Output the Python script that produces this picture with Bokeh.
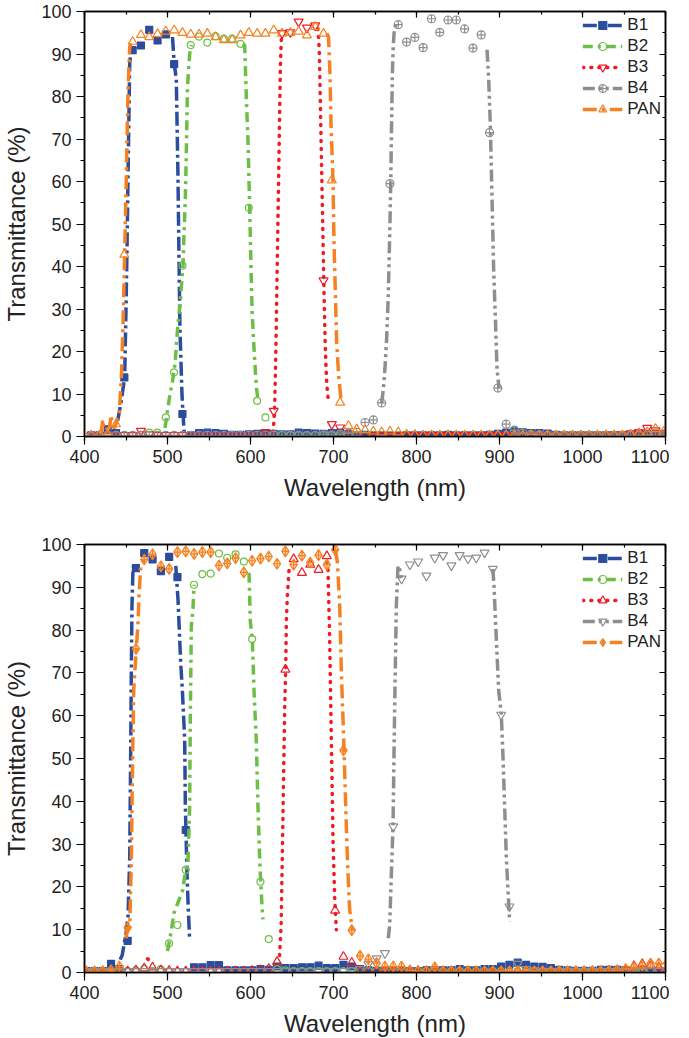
import numpy as np
from bokeh.plotting import figure
from bokeh.layouts import column
from bokeh.models import (LinearAxis, SingleIntervalTicker, Legend, LegendItem, Range1d,
                          CustomJSTickFormatter)
from bokeh.embed import file_html
from bokeh.resources import INLINE

nan = float("nan")
series_names = ["B1", "B2", "B3", "B4", "PAN"]

# ---------------- top panel data ----------------
top_wl = list(range(408, 1099, 10))
top_B1 = [0.3, 0.3, 1.7, 0.8, 13.9, 90.9, 92.0, 95.7, 93.2, 94.6,
          87.6, 5.3, 0.3, 0.8, 0.9, 0.8, 0.6, 0.4, 0.4, 0.5,
          0.6, 0.7, 0.6, 0.5, 0.5, 0.9, 0.8, 0.7, 0.6, 0.8,
          0.9, 0.6, 0.3, 0.4, 0.3, 0.3, 0.2, 0.2, 0.3, 0.3,
          0.3, 0.3, 0.3, 0.4, 0.3, 0.3, 0.3, 0.3, 0.4, 0.6,
          0.9, 1.2, 1.0, 0.8, 0.8, 0.7, 0.4, 0.3, 0.3, 0.3,
          0.3, 0.3, 0.3, 0.3, 0.3, 0.4, 0.5, 0.6, 0.7, 0.6]
top_B2 = [0.2, 0.2, 0.2, 0.3, 0.3, 0.3, 0.4, 0.9, 0.9, 4.5,
          15.1, 40.2, 92.1, 94.1, 92.7, 94.2, 93.6, 93.6, 92.4, 53.8,
          8.4, 4.5, 0.5, 0.4, 0.3, 0.3, 0.3, 0.3, 0.3, 0.3,
          0.3, 0.3, 0.3, 0.3, 0.3, 0.3, 0.3, 0.3, 0.3, 0.3,
          0.3, 0.3, 0.3, 0.3, 0.3, 0.3, 0.3, 0.3, 0.3, 0.3,
          0.3, 0.3, 0.3, 0.3, 0.3, 0.3, 0.3, 0.3, 0.3, 0.3,
          0.3, 0.3, 0.3, 0.3, 0.4, 0.5, 0.4, 0.4, 0.3, 0.3]
top_B3 = [0.2, 0.2, 0.2, 0.2, 0.3, 0.3, 1.3, 0.5, 0.3, 0.3,
          0.3, 0.3, 0.3, 0.3, 0.3, 0.3, 0.3, 0.3, 0.3, 0.3,
          0.5, 1.0, 6.0, 94.9, 95.1, 97.6, 96.2, 96.7, 36.7, 2.9,
          2.1, 0.5, 0.3, 0.3, 0.3, 0.3, 0.3, 0.3, 0.3, 0.3,
          0.3, 0.3, 0.3, 0.3, 0.3, 0.3, 0.3, 0.3, 0.3, 0.3,
          0.3, 0.3, 0.3, 0.3, 0.3, 0.3, 0.3, 0.3, 0.3, 0.3,
          0.3, 0.3, 0.3, 0.4, 0.5, 0.7, 1.0, 2.0, 1.4, 0.8]
top_B4 = [0.2, 0.2, 0.3, 0.3, 0.3, 0.3, 0.3, 0.3, 0.3, 0.3,
          0.3, 0.3, 0.3, 0.3, 0.3, 0.3, 0.3, 0.3, 0.3, 0.3,
          0.3, 0.3, 0.3, 0.3, 0.3, 0.3, 0.3, 0.3, 0.4, 0.4,
          0.5, 0.8, 1.0, 3.3, 3.9, 7.9, 59.5, 96.9, 92.8, 93.9,
          91.5, 98.3, 95.1, 98.0, 98.0, 95.9, 91.4, 94.5, 71.5, 11.4,
          2.9, 1.5, 0.8, 0.5, 0.4, 0.3, 0.3, 0.3, 0.3, 0.3,
          0.3, 0.3, 0.3, 0.3, 0.3, 0.3, 0.3, 0.3, 0.3, 0.3]
top_PAN = [0.3, 0.3, 0.5, 2.9, 42.8, 92.9, 94.5, 94.0, 94.7, 95.3,
           95.6, 95.0, 94.6, 94.6, 94.8, 94.0, 93.3, 93.3, 94.4, 95.0,
           94.8, 94.8, 95.6, 94.8, 95.0, 95.3, 94.4, 96.4, 94.8, 60.3,
           8.0, 2.5, 1.7, 1.5, 1.2, 1.0, 1.2, 1.0, 0.5, 0.4,
           0.3, 0.3, 0.3, 0.3, 0.3, 0.3, 0.3, 0.3, 0.3, 0.3,
           0.3, 0.3, 0.3, 0.3, 0.3, 0.3, 0.3, 0.3, 0.3, 0.3,
           0.3, 0.3, 0.3, 0.3, 0.3, 0.5, 0.8, 1.0, 1.8, 1.2]

# steep edges (line traces), NaN separates rising/falling edge
top_B1_edge_wl = [440, 444, 448.4, 450, 451.2, 452.5, 453.5, 454.5, 456, 458.4, nan,
                  506, 508, 510.6, 512.6, 513.8, 515, 517.5, 518.7, 520]
top_B1_edge_T = [3.7, 8, 13.9, 30, 44, 62, 75, 88, 90.5, 90.9, nan,
                 94, 88, 84, 61.5, 42.6, 25.3, 9.6, 5.3, 1]
top_B2_edge_wl = [497, 500, 503, 506, 509, 512, 515, 518.7, 520, 521.5, 522.7, 524, 526.7, 528.7, nan,
                  591, 593, 595, 597, 599, 600.2, 601.8, 603.8, 606.2, 607.4, 609]
top_B2_edge_T = [2, 6, 10, 13, 17, 25, 31, 40.2, 48, 56.4, 67, 82, 90, 92.1, nan,
                 92.4, 92, 79.6, 69.4, 53.8, 43.4, 30, 22.2, 14.3, 11.2, 8.4]
top_B3_edge_wl = [627, 628, 629, 630, 631, 632, 633, 634, 635, 636, 637, 638, nan,
                  681, 682, 683, 684, 685, 686, 687, 688, 689, 690, 691, 692, 693.5]
top_B3_edge_T = [1, 3, 6, 15, 25, 38, 50, 62, 75, 87, 93, 94.9, nan,
                 96, 94, 90, 80, 70, 60, 50, 40, 30, 22, 16, 12, 9]
top_B4_edge_wl = [758, 760, 762, 764, 766, 768, 769, 770, 771, 772, 773, 775, nan,
                  885, 887, 889, 891, 893, 895, 897, 899.4]
top_B4_edge_T = [7.9, 11, 16, 23, 33, 50, 60, 74, 86, 92, 95, 97, nan,
                 91, 84, 73, 56, 39, 28, 16, 11.4]
top_PAN_edge_wl = [420, 422, 424, 430, 432, 434, 436, 438, 442, 444.4, 446.4, 448.4, 450.4, 452.4,
                   454.4, 456, nan,
                   692, 694, 695.8, 697, 699.4, 700.6, 702.2, 703.8, 706.2, 709.4]
top_PAN_edge_T = [0.5, 4, 1.5, 2, 5, 2.5, 2, 3, 6, 14, 26, 42.8, 61.5, 81, 91.5, 92.5, nan,
                  94.8, 94, 85, 73.6, 60.3, 45.8, 34, 22.2, 14.3, 8]

# ---------------- bottom panel data ----------------
bot_wl = list(range(402, 1103, 10))
bot_B1 = [0.3, 0.3, 0.3, 2.0, 0.8, 7.4, 94.5, 98.0, 96.5, 93.8,
          97.1, 92.4, 33.3, 1.2, 1.2, 1.7, 1.7, 0.5, 0.5, 0.5,
          0.5, 0.8, 0.6, 1.4, 1.0, 1.0, 1.2, 1.2, 1.6, 1.0,
          1.0, 1.8, 1.4, 0.8, 0.5, 0.4, 0.4, 0.3, 0.3, 0.3,
          0.3, 0.5, 0.5, 0.5, 0.5, 0.8, 0.5, 0.5, 0.8, 0.8,
          1.4, 1.8, 2.3, 1.8, 1.4, 1.3, 1.0, 0.6, 0.5, 0.4,
          0.4, 0.4, 0.6, 0.6, 0.6, 0.5, 0.4, 0.4, 0.3, 0.3,
          0.3]
bot_B2 = [0.3, 0.3, 0.3, 0.3, 0.3, 0.3, 0.5, 0.8, 0.4, 0.8,
          6.8, 11.1, 24.0, 90.6, 93.1, 93.2, 97.9, 96.9, 97.7, 96.0,
          77.9, 21.2, 7.8, 0.8, 0.5, 0.3, 0.3, 0.3, 0.3, 0.3,
          0.3, 0.3, 0.3, 0.3, 0.3, 0.3, 0.3, 0.3, 0.3, 0.3,
          0.3, 0.3, 0.3, 0.3, 0.3, 0.3, 0.3, 0.3, 0.3, 0.3,
          0.3, 0.3, 0.3, 0.3, 0.3, 0.3, 0.3, 0.3, 0.3, 0.3,
          0.3, 0.3, 0.3, 0.3, 0.5, 0.5, 0.4, 0.3, 0.3, 0.3,
          0.3]
bot_B3 = [0.2, 0.2, 0.3, 0.3, 0.3, 0.3, 0.5, 1.0, 1.2, 0.5,
          0.4, 0.3, 0.3, 0.3, 0.3, 0.3, 0.3, 0.3, 0.3, 0.3,
          0.4, 0.6, 0.9, 2.5, 70.8, 96.6, 93.4, 95.3, 94.1, 97.3,
          14.5, 3.7, 2.3, 0.5, 0.3, 0.3, 0.3, 0.3, 0.3, 0.3,
          0.3, 0.3, 0.3, 0.3, 0.3, 0.3, 0.3, 0.3, 0.3, 0.3,
          0.3, 0.3, 0.3, 0.3, 0.3, 0.3, 0.3, 0.3, 0.3, 0.3,
          0.3, 0.3, 0.3, 0.4, 0.5, 0.6, 1.5, 2.0, 1.7, 1.2,
          0.8]
bot_B4 = [0.3, 0.3, 0.3, 0.3, 0.3, 0.3, 0.3, 0.3, 0.3, 0.3,
          0.3, 0.3, 0.3, 0.3, 0.3, 0.3, 0.3, 0.3, 0.3, 0.3,
          0.3, 0.3, 0.3, 0.3, 0.3, 0.3, 0.3, 0.3, 0.3, 0.3,
          0.3, 0.3, 0.5, 0.8, 2.0, 3.3, 4.5, 34.1, 92.0, 95.3,
          96.0, 92.7, 96.9, 97.5, 95.1, 97.5, 96.7, 96.9, 98.1, 94.3,
          60.2, 15.4, 2.0, 0.8, 0.5, 0.3, 0.3, 0.3, 0.3, 0.3,
          0.3, 0.3, 0.3, 0.3, 0.3, 0.3, 0.3, 0.4, 0.5, 0.5,
          0.5]
bot_PAN = [0.3, 0.3, 0.3, 0.5, 1.4, 10.5, 75.6, 96.5, 97.7, 94.9,
           94.3, 98.2, 98.4, 97.8, 98.2, 98.2, 95.1, 95.6, 96.8, 93.5,
           96.2, 96.7, 97.2, 95.5, 98.4, 95.3, 97.4, 95.8, 97.5, 95.3,
           98.8, 51.9, 9.9, 3.9, 3.1, 2.2, 1.4, 1.4, 1.4, 0.5,
           0.4, 0.3, 1.2, 0.3, 0.3, 0.3, 0.3, 0.3, 0.3, 0.3,
           0.3, 0.3, 0.3, 0.3, 0.3, 0.3, 0.3, 0.3, 0.3, 0.3,
           0.3, 0.3, 0.3, 0.4, 0.5, 0.8, 1.2, 1.6, 2.1, 2.1,
           2.2]

bot_B1_edge_wl = [443, 445.5, 448, 450, 452.4, 454.5, 455.6, 456.4, 457.2, 458.4, 460, nan,
                  510, 512.7, 515.9, 517.9, 520.7, 521.5, 523.5, 525, 526.7]
bot_B1_edge_T = [3, 4.1, 7, 9, 13, 27, 50.5, 70, 85.6, 94.1, 96, nan,
                 95, 87, 72.3, 66, 54.4, 38.8, 23.2, 15, 7.6]
bot_B2_edge_wl = [500, 503, 508, 514, 518, 522, 524.7, 526.7, 527.5, 528.7, 530.7, 532, nan,
                  598.2, 599.8, 602.2, 604.2, 607, 609, 611, 612.3, 613.9, 615]
bot_B2_edge_T = [5, 8, 14, 17, 19, 24, 26, 38.8, 60, 80.9, 85, 90.6, nan,
                 93.4, 82, 77.9, 66, 54, 38.8, 27, 21.2, 15.4, 12.4]
bot_B3_edge_wl = [476, 478, 479.5, nan,
                  635, 636.9, 638.9, 641.2, 642.4, 643.2, 644.4, 646.4, 648, nan,
                  692, 693.4, 695.4, 697.4, 699.4, 701.4, 703.4]
bot_B3_edge_T = [3.2, 2.8, 2.3, nan,
                 4, 11, 34, 62, 70.8, 82, 88, 94, 95, nan,
                 96, 94, 77.8, 54.4, 31, 17.7, 10]
bot_B4_edge_wl = [766, 767.7, 769.7, 771.7, 773.7, 775.7, 777.7, 779, 781.7, nan,
                  892, 893.4, 896.2, 899, 902.2, 904.2, 906.2, 908.2, 910.2, 912.3]
bot_B4_edge_T = [8, 11.1, 23, 34.1, 62, 85.6, 95, 95, 92, nan,
                 94.3, 90.2, 77.8, 66, 60.2, 50.5, 38.8, 27, 19.3, 11.9]
bot_PAN_edge_wl = [450, 452.4, 454.5, 456.5, 457.7, 459.3, 462.4, 464.5, 465.7, 467.7, 472.5, nan,
                   702, 704.6, 707.5, 709.5, 711.5, 712.7, 714.7, 716.7, 718.3, 719.5, 722.7]
bot_PAN_edge_T = [8, 10.5, 10.5, 27, 46.5, 66, 75.6, 81.7, 88, 95, 96.5, nan,
                  98.8, 96, 85.6, 70, 59, 51.9, 38.8, 27, 19.3, 14.6, 9.9]

# ---------------- styling ----------------
FONT = "Liberation Sans"
COLORS = {"B1": "#2b4c9f", "B2": "#6dbe45", "B3": "#ee1c25", "B4": "#8e8e8e", "PAN": "#f68121"}
DASH = {"B1": "14 4 3 4", "B2": "10 5 3 5", "B3": "1 7", "B4": "12 4 3 4 3 4", "PAN": "14 5 3 5"}
top_markers = {"B1": ("square", 7, True), "B2": ("circle", 7, False), "B3": ("inverted_triangle", 9, False),
               "B4": ("circle_cross", 8, False), "PAN": ("triangle", 9, False)}
bot_markers = {"B1": ("square", 7, True), "B2": ("circle", 7, False), "B3": ("triangle", 9, False),
               "B4": ("inverted_triangle", 9, False), "PAN": ("diamond_cross", 11, False)}


def style_axis(ax, inward):
    ax.axis_line_width = 1.5
    ax.axis_line_color = "black"
    ax.major_tick_line_width = 1.2
    ax.minor_tick_line_width = 1.2
    if inward:
        ax.major_tick_in, ax.major_tick_out = 6, 0
        ax.minor_tick_in, ax.minor_tick_out = 3, 0
        ax.formatter = CustomJSTickFormatter(code="return ''")
        ax.major_label_standoff = 0
    else:
        ax.major_tick_in, ax.major_tick_out = 0, 8
        ax.minor_tick_in, ax.minor_tick_out = 0, 4
        ax.major_label_text_font = FONT
        ax.major_label_text_font_size = "18px"
        ax.major_label_text_color = "#222222"
        ax.major_label_standoff = 5
        ax.axis_label_text_font = FONT
        ax.axis_label_text_font_size = "24px"
        ax.axis_label_text_font_style = "normal"
        ax.axis_label_text_color = "#222222"
        ax.axis_label_standoff = 8


def panel(wl, vals, edges, markers, frame_h, border_top):
    p = figure(frame_width=581, frame_height=frame_h,
               x_range=Range1d(400, 1100), y_range=Range1d(0, 100),
               output_backend="svg", toolbar_location=None,
               min_border_left=84, min_border_right=4,
               min_border_top=border_top, min_border_bottom=5,
               x_axis_label="Wavelength (nm)", y_axis_label="Transmittance (%)")
    p.xgrid.visible = False
    p.ygrid.visible = False
    p.outline_line_color = "black"
    p.outline_line_width = 1.5
    p.xaxis.ticker = SingleIntervalTicker(interval=100, num_minor_ticks=2)
    p.yaxis.ticker = SingleIntervalTicker(interval=10, num_minor_ticks=2)
    style_axis(p.xaxis[0], False)
    style_axis(p.yaxis[0], False)
    top = LinearAxis(ticker=SingleIntervalTicker(interval=100, num_minor_ticks=2))
    right = LinearAxis(ticker=SingleIntervalTicker(interval=10, num_minor_ticks=2))
    style_axis(top, True)
    style_axis(right, True)
    p.add_layout(top, "above")
    p.add_layout(right, "right")

    items = []
    for name in series_names:
        c = COLORS[name]
        ex, ey = edges[name]
        ln = p.line(ex, ey, line_color=c, line_width=3.5, line_dash=DASH[name],
                    line_cap="round" if name == "B3" else "butt")
        mk, sz, filled = markers[name]
        kw = dict(marker=mk, size=sz, line_color=c, line_width=1.2)
        if filled:
            kw.update(fill_color=c)
        elif mk == "diamond_cross":
            kw.update(fill_color=c, fill_alpha=0.25)
        else:
            kw.update(fill_color=None)
        sc = p.scatter(wl, vals[name], **kw)
        items.append(LegendItem(label=name, renderers=[ln, sc]))

    leg = Legend(items=items, location="top_right")
    leg.label_text_font = FONT
    leg.label_text_font_size = "17px"
    leg.label_text_color = "#222222"
    leg.glyph_width = 40
    leg.glyph_height = 20
    leg.label_height = 20
    leg.label_standoff = 5
    leg.spacing = 1
    leg.padding = 4
    leg.margin = 0
    leg.border_line_alpha = 0
    leg.background_fill_alpha = 0
    p.add_layout(leg)
    return p


top_vals = {"B1": top_B1, "B2": top_B2, "B3": top_B3, "B4": top_B4, "PAN": top_PAN}
top_edges = {"B1": (top_B1_edge_wl, top_B1_edge_T), "B2": (top_B2_edge_wl, top_B2_edge_T),
             "B3": (top_B3_edge_wl, top_B3_edge_T), "B4": (top_B4_edge_wl, top_B4_edge_T),
             "PAN": (top_PAN_edge_wl, top_PAN_edge_T)}
bot_vals = {"B1": bot_B1, "B2": bot_B2, "B3": bot_B3, "B4": bot_B4, "PAN": bot_PAN}
bot_edges = {"B1": (bot_B1_edge_wl, bot_B1_edge_T), "B2": (bot_B2_edge_wl, bot_B2_edge_T),
             "B3": (bot_B3_edge_wl, bot_B3_edge_T), "B4": (bot_B4_edge_wl, bot_B4_edge_T),
             "PAN": (bot_PAN_edge_wl, bot_PAN_edge_T)}

p1 = panel(top_wl, top_vals, top_edges, top_markers, 425, 11)
p2 = panel(bot_wl, bot_vals, bot_edges, bot_markers, 428, 41)

layout = column(p1, p2, spacing=0)
open("out.html", "w").write(file_html(layout, INLINE))
